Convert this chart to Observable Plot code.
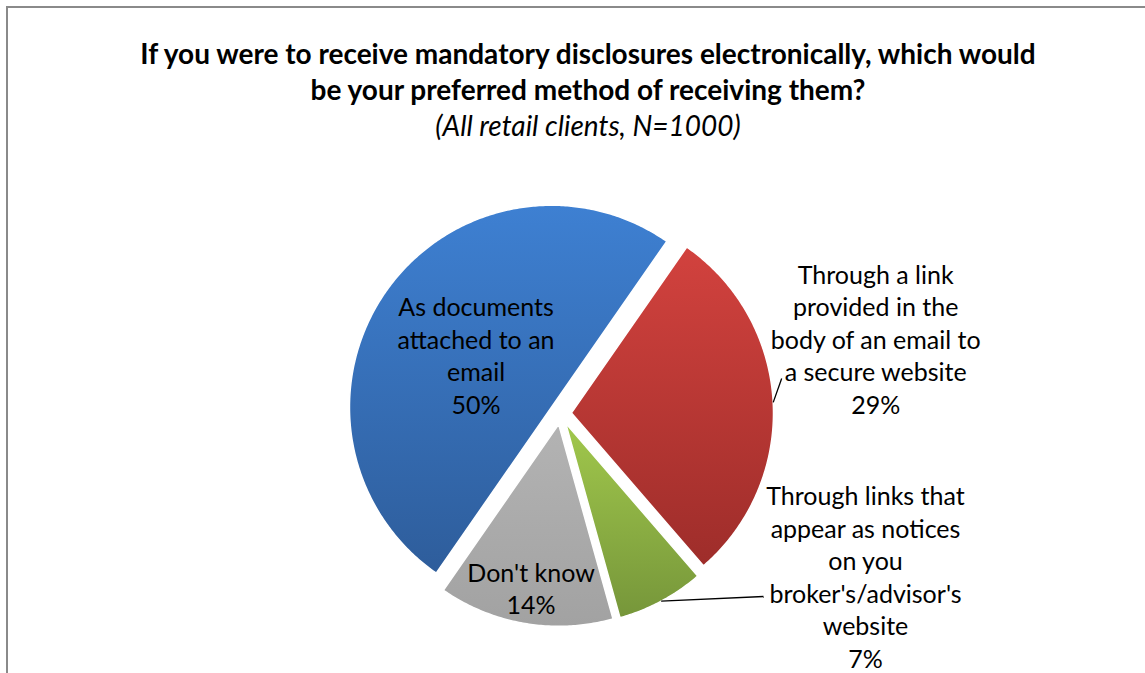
<!DOCTYPE html>
<html><head><meta charset="utf-8">
<script src="https://cdn.jsdelivr.net/npm/d3@7"></script>
<script src="https://cdn.jsdelivr.net/npm/@observablehq/plot@0.6"></script>
<style>
html,body{margin:0;padding:0;background:#fff;overflow:hidden;width:1145px;height:673px}
#wrap{position:relative;width:1145px;height:673px;font-family:Lato,"Open Sans",sans-serif}
#frame{position:absolute;left:6px;top:6px;width:1164px;height:740px;border:2px solid #8a8a8a;box-sizing:border-box;pointer-events:none}
#title{position:absolute;left:7px;top:35px;width:1162px;text-align:center;color:#000}
#title .t{font-weight:bold;font-size:28px;line-height:36px}
#title .s{font-style:italic;font-size:28px;line-height:36px}
#plot{position:absolute;left:0;top:160px}
</style></head><body>
<div id="wrap">
<div id="title"><div class="t">If you were to receive mandatory disclosures electronically, which would<br>be your preferred method of receiving them?</div><div class="s">(All retail clients, N=1000)</div></div>
<div id="plot"></div>
<div id="frame"></div>
</div>
<script>
// ---- data ----
const categories = [
  "As documents attached to an email",
  "Through a link provided in the body of an email to a secure website",
  "Through links that appear as notices on you broker's/advisor's website",
  "Don't know"
];
const values = [50, 29, 7, 14];
const labelLines = [
  ["As documents", "attached to an", "email"],
  ["Through a link", "provided in the", "body of an email to", "a secure website"],
  ["Through links that", "appear as notices", "on you", "broker's/advisor's", "website"],
  ["Don't know"]
];
const topColors = ["#3e80d2", "#d2423e", "#a1c84c", "#b3b3b3"];
const bottomColors = ["#2e5d9b", "#9e2d2a", "#76963a", "#a2a2a2"];

// ---- layout ----
const W = 1145, H = 673, TOP = 160;
const cx = 560, cy = 413, R = 202, explode = 11, startDeg = 214.8;
// label placement: polar (deg from north, px from centre); leader end offset from label anchor
const labelPlace = [
  {angle: null, rf: 0.455},
  {angle: 76.6, dist: 324, leader: [-94, 40]},
  {angle: 118.05, dist: 345.6, leader: [-102, 20.5]},
  {angle: null, rf: 0.82}
];

const rad = Math.PI / 180;
const data = categories.map((c, i) => ({category: c, value: values[i], i}));
const total = d3.sum(values);
const arcs = d3.pie().sort(null).value(d => d.value)
  .startAngle(startDeg * rad).endAngle(startDeg * rad + 2 * Math.PI)(data);

const slices = arcs.map(a => {
  const mid = (a.startAngle + a.endAngle) / 2;
  const ox = cx + explode * Math.sin(mid), oy = cy - explode * Math.cos(mid);
  const pts = [{x: ox, y: oy}];
  const n = Math.max(2, Math.ceil((a.endAngle - a.startAngle) / 0.01));
  for (let k = 0; k <= n; k++) {
    const t = a.startAngle + (a.endAngle - a.startAngle) * k / n;
    pts.push({x: ox + R * Math.sin(t), y: oy - R * Math.cos(t)});
  }
  return {i: a.data.i, mid, ox, oy, pts};
});

const labels = slices.map(s => {
  const p = labelPlace[s.i];
  const pct = Math.round(values[s.i] / total * 100) + "%";
  let x, y;
  if (p.angle == null) {
    x = s.ox + p.rf * R * Math.sin(s.mid);
    y = s.oy - p.rf * R * Math.cos(s.mid);
  } else {
    x = cx + p.dist * Math.sin(p.angle * rad);
    y = cy - p.dist * Math.cos(p.angle * rad);
  }
  return {x, y, text: labelLines[s.i].concat([pct]).join("\n"), s, p};
});

const leaders = labels.filter(l => l.p.leader).map(l => ({
  x1: l.s.ox + R * Math.sin(l.s.mid), y1: l.s.oy - R * Math.cos(l.s.mid),
  x2: l.x + l.p.leader[0], y2: l.y + l.p.leader[1]
}));

const svg = Plot.plot({
  width: W, height: H - TOP, margin: 0,
  x: {domain: [0, W], range: [0, W], axis: null},
  y: {domain: [TOP, H], range: [0, H - TOP], axis: null},
  style: {background: "transparent", overflow: "visible"},
  marks: [
    ...slices.map(s => Plot.line(s.pts, {x: "x", y: "y", curve: "linear-closed",
      fill: `url(#grad${s.i})`, stroke: "#ffffff", strokeWidth: 1.5})),
    Plot.link(leaders, {x1: "x1", y1: "y1", x2: "x2", y2: "y2", stroke: "#000", strokeWidth: 1.3}),
    Plot.text(labels, {x: "x", y: "y", text: "text", fontSize: 25, lineHeight: 1.3,
      fill: "#000", textAnchor: "middle", lineAnchor: "middle", fontFamily: "Lato, 'Open Sans', sans-serif"})
  ]
});

const defs = d3.select(svg).insert("defs", ":first-child");
topColors.forEach((c, i) => {
  const g = defs.append("linearGradient").attr("id", `grad${i}`)
    .attr("x1", 0).attr("y1", 0).attr("x2", 0).attr("y2", 1);
  g.append("stop").attr("offset", "0%").attr("stop-color", c);
  g.append("stop").attr("offset", "100%").attr("stop-color", bottomColors[i]);
});
document.getElementById("plot").appendChild(svg);
</script>
</body></html>
